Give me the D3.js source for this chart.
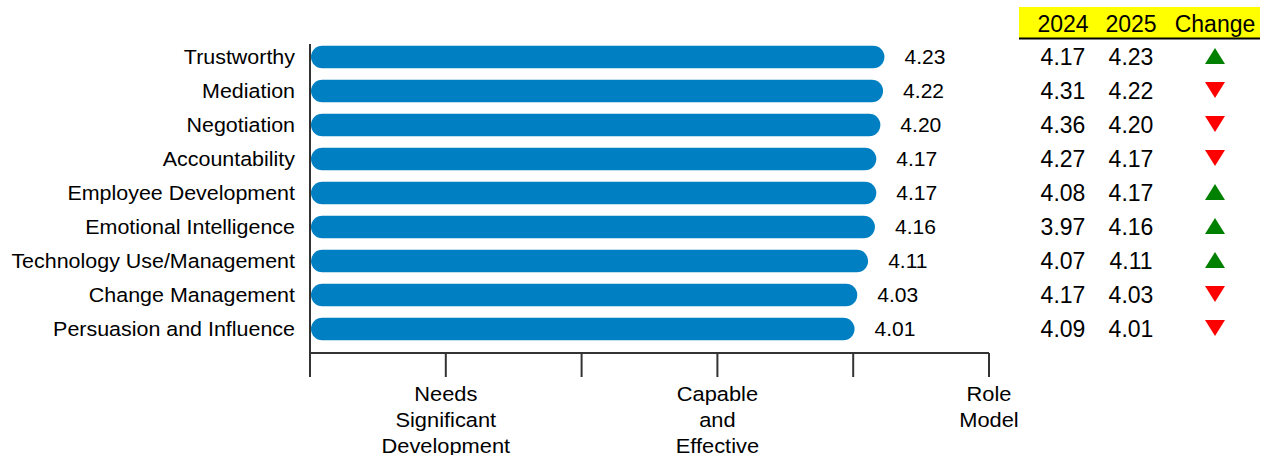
<!DOCTYPE html>
<html>
<head>
<meta charset="utf-8">
<script src="https://cdn.jsdelivr.net/npm/d3@7"></script>
<style>
  body { margin: 0; background: #fff; }
  text { font-family: "Liberation Sans", Arial, sans-serif; fill: #000; }
</style>
</head>
<body>
<div id="viz"></div>
<script>
// ===== Data =====
const categories = ['Trustworthy', 'Mediation', 'Negotiation', 'Accountability', 'Employee Development',
  'Emotional Intelligence', 'Technology Use/Management', 'Change Management', 'Persuasion and Influence'];
const scores2025 = [4.23, 4.22, 4.20, 4.17, 4.17, 4.16, 4.11, 4.03, 4.01];
const scores2024 = [4.17, 4.31, 4.36, 4.27, 4.08, 3.97, 4.07, 4.17, 4.09];
const tableHeaders = ['2024', '2025', 'Change'];
const scaleLabels = [
  { value: 1, lines: ['Needs', 'Significant', 'Development'] },
  { value: 3, lines: ['Capable', 'and', 'Effective'] },
  { value: 5, lines: ['Role', 'Model'] }
];

const width = 1264;
const height = 455;
const barColor = '#0080C3';

const svg = d3.select('#viz')
  .append('svg')
  .attr('width', width)
  .attr('height', height);

// ===== Scales =====
const xScale = d3.scaleLinear()
  .domain([0, 5])
  .range([310, 989]);

const yScale = d3.scaleBand()
  .domain(categories)
  .range([40, 346])
  .paddingInner(0.34)
  .paddingOuter(0.17);

// text in the original is a bit wider than plain Arial
function stretchedText(sel, x, y, sx) {
  return sel.attr('transform', `translate(${x},${y}) scale(${sx},1)`);
}

// ===== Bars =====
const barH = yScale.bandwidth();
const rows = categories.map((c, i) => ({ name: c, v25: scores2025[i], v24: scores2024[i] }));

svg.append('g')
  .selectAll('rect')
  .data(rows)
  .join('rect')
  .attr('x', xScale(0) + 1)
  .attr('y', d => yScale(d.name))
  .attr('width', d => xScale(d.v25) - xScale(0) - 1)
  .attr('height', barH)
  .attr('rx', barH / 2)
  .attr('fill', barColor);

// value labels
svg.append('g')
  .selectAll('text')
  .data(rows)
  .join('text')
  .attr('font-size', 19.5)
  .each(function (d) {
    stretchedText(d3.select(this), xScale(d.v25) + 20, yScale(d.name) + barH / 2 + 7, 1.08);
  })
  .text(d => d.v25.toFixed(2));

// category labels
svg.append('g')
  .selectAll('text')
  .data(rows)
  .join('text')
  .attr('text-anchor', 'end')
  .attr('font-size', 19.5)
  .each(function (d) {
    stretchedText(d3.select(this), 295, yScale(d.name) + barH / 2 + 7, 1.1);
  })
  .text(d => d.name);

// ===== Axes =====
const axisY = 353;
svg.append('line')
  .attr('x1', xScale(0)).attr('x2', xScale(0))
  .attr('y1', 44).attr('y2', 377)
  .attr('stroke', '#333').attr('stroke-width', 2);

svg.append('line')
  .attr('x1', xScale(0)).attr('x2', xScale(5))
  .attr('y1', axisY).attr('y2', axisY)
  .attr('stroke', '#333').attr('stroke-width', 2);

svg.append('g')
  .selectAll('line')
  .data(d3.range(0, 6))
  .join('line')
  .attr('x1', d => xScale(d)).attr('x2', d => xScale(d))
  .attr('y1', axisY).attr('y2', 377)
  .attr('stroke', '#333').attr('stroke-width', 2);

const lbl = svg.append('g')
  .selectAll('text')
  .data(scaleLabels)
  .join('text')
  .attr('text-anchor', 'middle')
  .attr('font-size', 19.5)
  .each(function (d) {
    stretchedText(d3.select(this), xScale(d.value), 0, 1.12);
  });

lbl.selectAll('tspan')
  .data(d => d.lines)
  .join('tspan')
  .attr('x', 0)
  .attr('y', (d, i) => 401 + i * 26)
  .text(d => d);

// ===== Table =====
const colX = [1063, 1131, 1215];

svg.append('rect')
  .attr('x', 1019).attr('y', 7)
  .attr('width', 241).attr('height', 31)
  .attr('fill', '#FFFF00');

svg.append('line')
  .attr('x1', 1019).attr('x2', 1260)
  .attr('y1', 38.5).attr('y2', 38.5)
  .attr('stroke', '#000').attr('stroke-width', 2);

svg.append('g')
  .selectAll('text')
  .data(tableHeaders)
  .join('text')
  .attr('x', (d, i) => colX[i])
  .attr('y', 32)
  .attr('text-anchor', 'middle')
  .attr('font-size', 23)
  .text(d => d);

const tableRows = svg.append('g')
  .selectAll('g')
  .data(rows)
  .join('g')
  .attr('transform', d => `translate(0, ${yScale(d.name) + barH / 2})`);

tableRows.append('text')
  .attr('x', colX[0])
  .attr('y', 8)
  .attr('text-anchor', 'middle')
  .attr('font-size', 23)
  .text(d => d.v24.toFixed(2));

tableRows.append('text')
  .attr('x', colX[1])
  .attr('y', 8)
  .attr('text-anchor', 'middle')
  .attr('font-size', 23)
  .text(d => d.v25.toFixed(2));

// change arrows
tableRows.append('path')
  .attr('d', d => d.v25 >= d.v24
    ? `M${colX[2] - 10},7 L${colX[2] + 10},7 L${colX[2]},-9 Z`
    : `M${colX[2] - 10},-9 L${colX[2] + 10},-9 L${colX[2]},7 Z`)
  .attr('fill', d => d.v25 >= d.v24 ? '#008000' : '#FF0000');
</script>
</body>
</html>
